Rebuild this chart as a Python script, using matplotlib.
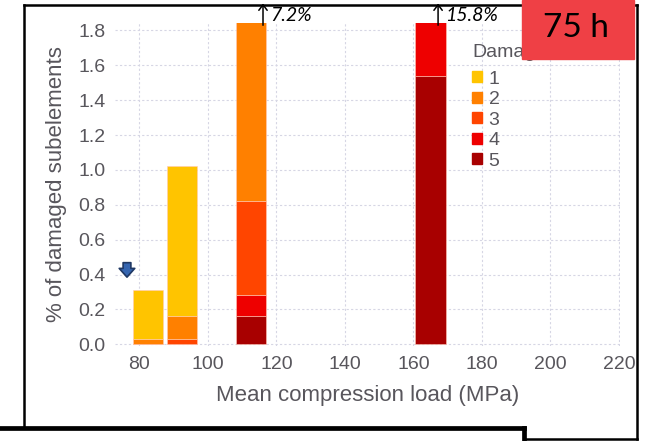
import numpy as np
import matplotlib
matplotlib.use('Agg')
from matplotlib import pyplot as plt
from matplotlib.patches import Patch, Rectangle
from matplotlib.lines import Line2D

# data (values above the axis top are clipped)
loads = [82.5, 92.5, 112.5, 165.0]
damage_levels = ['1', '2', '3', '4', '5']
dmg1 = [0.28, 0.86, 0.0, 0.0]
dmg2 = [0.03, 0.13, 6.38, 0.0]
dmg3 = [0.0, 0.03, 0.54, 0.0]
dmg4 = [0.0, 0.0, 0.12, 14.26]
dmg5 = [0.0, 0.0, 0.16, 1.54]
colors = ['#FFC400', '#FF8000', '#FF4500', '#EE0000', '#A80000']
xticks = [80, 100, 120, 140, 160, 180, 200, 220]
yticks = [0.0, 0.2, 0.4, 0.6, 0.8, 1.0, 1.2, 1.4, 1.6, 1.8]

W, H = 647, 441
fig = plt.figure(figsize=(W / 100, H / 100), dpi=100)
ax = fig.add_axes([115 / W, 95 / H, 505 / W, 323 / H])

txt = '#58565c'
font = 'Liberation Sans'

# stack from damage 5 at the bottom up to damage 1
series = [dmg5, dmg4, dmg3, dmg2, dmg1]
scol = colors[::-1]
bottom = np.zeros(len(loads))
for vals, c in zip(series, scol):
    ax.bar(loads, vals, width=8.8, bottom=bottom, color=c,
           edgecolor='#ffc8b8', linewidth=0.4, zorder=2)
    bottom += np.array(vals)

ax.set_xlim(72.9, 220.3)
ax.set_ylim(-0.01, 1.843)
ax.set_xticks(xticks)
ax.set_yticks(yticks)
ax.set_yticklabels(['%.1f' % v for v in yticks])
ax.tick_params(length=0, labelsize=14, labelcolor=txt, pad=7)
for lab in ax.get_xticklabels() + ax.get_yticklabels():
    lab.set_fontfamily(font)
ax.grid(True, color='#d6d6e4', linestyle=(0, (2, 2)), linewidth=0.8, zorder=0)
ax.set_axisbelow(True)
for s in ax.spines.values():
    s.set_visible(False)

ax.set_xlabel('Mean compression load (MPa)', fontsize=16, color=txt,
              fontfamily=font, labelpad=9)
ax.set_ylabel('% of damaged subelements', fontsize=16, color=txt,
              fontfamily=font, labelpad=8)

# totals of the clipped bars, with an up arrow
for xi, tot, ax_x in [(loads[2], bottom[2], 116.1), (loads[3], bottom[3], 167.2)]:
    ax.annotate('', xy=(ax_x, 1.955), xytext=(ax_x, 1.83),
                arrowprops=dict(arrowstyle='->,head_length=0.4,head_width=0.3',
                                color='black', lw=1.1, shrinkA=0, shrinkB=0),
                annotation_clip=False, zorder=5)
    ax.text(ax_x + 2.0, 1.885, '%.1f%%' % tot, fontsize=14,
            style='italic', family=['Lato', 'DejaVu Sans'],
            ha='left', va='center', clip_on=False, zorder=5)

# small blue marker arrow
ax.annotate('', xy=(76.4, 0.385), xytext=(76.4, 0.468),
            arrowprops=dict(arrowstyle='simple,head_length=0.45,head_width=0.8,tail_width=0.4',
                            fc='#3565b0', ec='#1f3864', lw=1.2, mutation_scale=14,
                            shrinkA=0, shrinkB=0),
            annotation_clip=False)

# legend
handles = [Patch(color=c, label=l) for c, l in zip(colors, damage_levels)]
leg = fig.legend(handles=handles, title='Damage', loc='upper left',
                 bbox_to_anchor=(472 / W, 1 - 44 / H), frameon=False,
                 handlelength=0.5, handleheight=0.5, handletextpad=0.35,
                 labelspacing=0.18, borderaxespad=0, borderpad=0,
                 prop={'family': font, 'size': 14})
leg.get_title().set_fontfamily(font)
leg.get_title().set_fontsize(14)
leg.get_title().set_color(txt)
leg._legend_box.align = 'left'
leg._legend_box.sep = 7
leg.set_zorder(3)
for t in leg.get_texts():
    t.set_color(txt)

# slide frame lines
def fline(xs, ys, lw):
    fig.add_artist(Line2D([x / W for x in xs], [1 - y / H for y in ys],
                          color='black', linewidth=lw, solid_capstyle='projecting'))

fline([24, 24], [5, 428], 1.8)
fline([24, 637], [5, 5], 1.8)
fline([637, 637], [5, 439], 1.8)
fline([524, 637], [439, 439], 1.8)
fline([0, 524], [428, 428], 3.4)
fline([524, 524], [428, 441], 3.4)

# red time label box
fig.add_artist(Rectangle((522 / W, 1 - 59 / H), 112 / W, 59 / H,
                         transform=fig.transFigure, color='#EF4045', zorder=10))
fig.text(576 / W, 1 - 28 / H, '75 h', fontsize=24, family=['Lato', 'DejaVu Sans'],
         ha='center', va='center', color='black', zorder=11)

fig.savefig('out.png', dpi=100)
